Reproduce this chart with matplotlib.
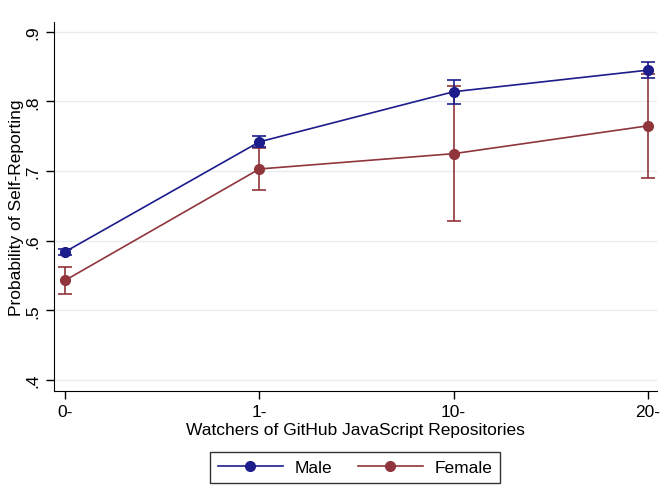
import matplotlib.pyplot as plt
from matplotlib.lines import Line2D
import numpy as np

plt.rcParams['font.family'] = ['Liberation Sans', 'DejaVu Sans']

# データ
categories = ['0-', '1-', '10-', '20-']
male = [0.584, 0.742, 0.814, 0.845]
male_err = [0.004, 0.008, 0.017, 0.011]
female = [0.543, 0.703, 0.725, 0.765]
female_err = [0.019, 0.030, 0.097, 0.075]
yticks = [0.4, 0.5, 0.6, 0.7, 0.8, 0.9]
ytick_labels = ['.4', '.5', '.6', '.7', '.8', '.9']

navy = '#1c1c8c'
maroon = '#90353b'

fig = plt.figure(figsize=(6.71, 5.02), dpi=100)
ax = fig.add_axes([0.0805, 0.219, 0.8985, 0.735])

x = np.arange(len(categories))
ax.errorbar(x, male, yerr=male_err, color=navy, marker='o', markersize=7,
            lw=1.2, capsize=5, elinewidth=1.2, capthick=1.2, zorder=3)
ax.errorbar(x, female, yerr=female_err, color=maroon, marker='o', markersize=7,
            lw=1.2, capsize=5, elinewidth=1.2, capthick=1.2, zorder=2)

ax.set_xlim(-0.057, 3.046)
ax.set_ylim(0.384, 0.914)
ax.set_xticks(x)
ax.set_xticklabels(categories, fontsize=12.5)
ax.set_yticks(yticks)
ax.set_yticklabels(ytick_labels, fontsize=12.5, rotation=90, va='center')
ax.grid(axis='y', color='#e6ecef', lw=1)
ax.set_axisbelow(True)
for s in ['top', 'right']:
    ax.spines[s].set_visible(False)
ax.tick_params(length=6, width=1)
ax.set_xlabel('Watchers of GitHub JavaScript Repositories', fontsize=12.5, labelpad=2)
ax.set_ylabel('Probability of Self-Reporting', fontsize=12.5, labelpad=1)

handles = [Line2D([], [], color=navy, marker='o', markersize=7, lw=1.2),
           Line2D([], [], color=maroon, marker='o', markersize=7, lw=1.2)]
leg = ax.legend(handles, ['Male', 'Female'], loc='upper center',
                bbox_to_anchor=(0.5, -0.142), ncol=2, fontsize=12.5,
                frameon=True, fancybox=False, edgecolor='black',
                handlelength=3.7, handletextpad=0.7, columnspacing=1.5,
                borderpad=0.45)
leg.get_frame().set_linewidth(1)

fig.savefig('out.png', dpi=100)
